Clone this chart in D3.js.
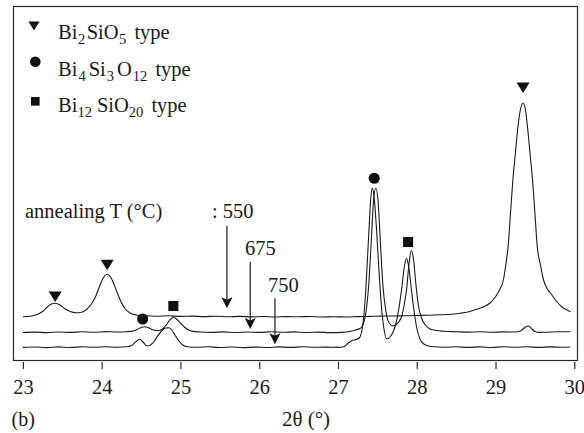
<!DOCTYPE html>
<html>
<head>
<meta charset="utf-8">
<script src="https://cdn.jsdelivr.net/npm/d3@7"></script>
<style>
  html, body { margin: 0; padding: 0; background: #fff; }
  svg { display: block; }
</style>
</head>
<body>
<svg id="chart" width="584" height="433"></svg>
<script>
// XRD patterns: [2θ (deg), intensity (a.u., offset per annealing temperature)]
const pattern550 = [
  [23.00,43.3],[23.10,43.8],[23.18,45.5],[23.25,48.5],[23.31,53],[23.36,56],[23.41,56.7],[23.47,55],
  [23.53,51.5],[23.60,48.5],[23.67,47.3],[23.73,47.5],[23.80,50],[23.86,55],[23.92,63],[23.97,73],
  [24.02,82],[24.07,85.7],[24.12,82],[24.17,73],[24.23,61],[24.29,52],[24.36,47],[24.44,45],
  [24.55,44.2],[24.70,43.8],[24.85,44.2],[25.00,43.6],[25.15,43.9],[25.30,43.4],[25.45,43.8],
  [25.60,43.2],[25.75,43.6],[25.90,43.1],[26.05,43.5],[26.20,43.0],[26.35,43.4],[26.50,43.2],
  [26.65,43.5],[26.80,43.0],[26.95,43.3],[27.10,43.0],[27.25,43.4],[27.40,43.6],[27.55,43.9],
  [27.70,44.0],[27.85,44.3],[28.00,44.5],[28.15,44.8],[28.30,45.2],[28.45,45.8],[28.55,46.7],
  [28.65,48],[28.75,50.5],[28.85,53.3],[28.93,57],[29.00,63.3],[29.05,70],[29.10,80],[29.13,95],
  [29.16,113.3],[29.19,146.7],[29.22,180],[29.25,205],[29.28,230],[29.31,248],[29.35,256.7],
  [29.38,250],[29.41,230],[29.44,205],[29.47,180],[29.50,146.7],[29.53,113.3],[29.57,95],
  [29.61,80],[29.65,72],[29.70,66.7],[29.77,59],[29.84,53.3],[29.90,50.5],[29.95,48.3]
];
const pattern675 = [
  [23.00,27.5],[23.15,27.9],[23.30,27.4],[23.45,28.0],[23.60,27.6],[23.75,28.2],[23.90,27.7],
  [24.05,28.4],[24.20,28.0],[24.32,28.3],[24.40,29],[24.45,30.5],[24.50,32.5],[24.55,33.3],
  [24.60,32],[24.66,30],[24.72,29.3],[24.77,31],[24.82,35],[24.87,40.5],[24.91,42.7],[24.95,41],
  [25.00,37],[25.05,33],[25.10,30],[25.16,28.6],[25.25,28],[25.40,27.6],[25.55,28.1],[25.70,27.5],
  [25.85,28.0],[26.00,27.6],[26.15,28.2],[26.30,27.7],[26.45,28.1],[26.60,27.5],[26.75,27.9],
  [26.90,27.4],[27.05,27.6],[27.15,28.5],[27.22,30],[27.28,31.5],[27.31,34],[27.35,45],[27.39,75],
  [27.42,115],[27.45,158],[27.48,172],[27.51,158],[27.54,115],[27.57,75],[27.61,48],[27.65,37],
  [27.70,34],[27.74,35.5],[27.78,39],[27.81,44],[27.84,55],[27.87,70],[27.90,95],[27.93,109.3],
  [27.96,100],[27.99,75],[28.02,55],[28.06,42],[28.11,35],[28.17,31],[28.25,29.5],[28.35,28.8],
  [28.50,28.3],[28.65,27.9],[28.80,28.2],[28.95,27.7],[29.10,28.1],[29.25,28.0],[29.31,28.8],
  [29.35,31],[29.39,33.5],[29.42,34],[29.46,31],[29.50,28.5],[29.56,27.6],[29.65,27.8],
  [29.80,28.2],[29.95,28.3]
];
const pattern750 = [
  [23.00,12.6],[23.15,13.0],[23.30,12.4],[23.45,13.1],[23.60,12.5],[23.75,13.2],[23.90,12.7],
  [24.05,13.3],[24.20,12.8],[24.32,13.2],[24.38,14.5],[24.43,18],[24.48,20.7],[24.53,17.5],
  [24.57,14.3],[24.61,14.5],[24.66,18],[24.71,24],[24.76,29],[24.81,32],[24.85,32.3],[24.89,30],
  [24.93,25],[24.98,19],[25.03,15],[25.09,13.2],[25.20,12.7],[25.35,13.2],[25.50,12.5],[25.65,13.0],
  [25.80,12.4],[25.95,12.9],[26.10,12.5],[26.25,13.1],[26.40,12.6],[26.55,13.2],[26.70,12.7],
  [26.85,12.9],[27.00,12.6],[27.08,13.5],[27.13,17],[27.18,19.5],[27.23,20.5],[27.27,22],[27.30,28],
  [27.33,45],[27.36,80],[27.39,125],[27.415,160],[27.435,172],[27.46,162],[27.49,130],[27.52,90],
  [27.55,55],[27.58,33],[27.62,21],[27.66,23],[27.70,28],[27.74,38],[27.78,55],[27.81,72],
  [27.84,92],[27.87,102],[27.90,92],[27.93,72],[27.96,52],[28.00,32],[28.04,21],[28.09,16],
  [28.15,14],[28.22,13.2],[28.35,12.8],[28.50,13.2],[28.65,12.6],[28.80,13.1],[28.95,12.5],
  [29.10,13.3],[29.25,12.7],[29.40,13.2],[29.55,12.6],[29.70,13.1],[29.85,12.7],[29.95,13.0]
];

// Phase markers above the indexed reflections (0: Bi2SiO5, 1: Bi4Si3O12, 2: Bi12SiO20)
const markerTheta = [23.41, 24.07, 29.35, 24.52, 27.46, 24.91, 27.89];
const markerLevel = [63.3, 95, 272.3, 41, 181.7, 54, 118];
const markerPhase = [0, 0, 0, 1, 1, 2, 2];

// Annealing temperature labels and arrows
const tempLabels = [": 550", "675", "750"];
const arrowTheta = [25.59, 25.886, 26.20];
const arrowFrom = [134, 98, 61.7];
const arrowTo = [51.7, 31, 15.7];

// Legend entries: [text, isSubscript]
const legendLabels = [
  [["Bi",0],["2",1],["SiO",0],["5",1],[" type",0]],
  [["Bi",0],["4",1],["Si",0],["3",1],["O",0],["12",1],[" type",0]],
  [["Bi",0],["12",1],["SiO",0],["20",1],[" type",0]]
];
const xTicks = [23, 24, 25, 26, 27, 28, 29, 30];

const SERIF = '"Liberation Serif", "Times New Roman", Times, serif';
const INK = "#1a1a1a";

const svg = d3.select("#chart").attr("font-family", SERIF);
const frame = { left: 13.5, top: 6.5, right: 577.5, bottom: 360.5 };

const x = d3.scaleLinear().domain([23, 30]).range([22.9, 574.3]);
const y = d3.scaleLinear().domain([0, 354]).range([360, 6]);

function label(xPos, yPos, str, anchor) {
  return svg.append("text")
    .attr("x", xPos).attr("y", yPos)
    .attr("text-anchor", anchor || "start")
    .attr("font-family", SERIF).attr("font-size", 20)
    .attr("fill", INK).text(str);
}

// Plot frame
svg.append("rect")
  .attr("x", frame.left).attr("y", frame.top)
  .attr("width", frame.right - frame.left).attr("height", frame.bottom - frame.top)
  .attr("fill", "none").attr("stroke", "#2a2a2a").attr("stroke-width", 1.2);

// X axis
const axisG = svg.append("g").attr("transform", "translate(0,362)")
  .call(d3.axisBottom(x).tickValues(xTicks).tickSize(7).tickFormat(d3.format("d")))
  .attr("font-family", SERIF).attr("font-size", 20);
axisG.select(".domain").remove();
axisG.selectAll(".tick line").attr("stroke", "#2a2a2a").attr("stroke-width", 1.2);
axisG.selectAll(".tick text")
  .attr("y", 32).attr("dy", null)
  .attr("font-family", SERIF).attr("font-size", 20.5)
  .attr("fill", INK);

label(306, 426, "2θ (°)", "middle").attr("font-size", 21);
label(11.5, 426, "(b)");

// Diffraction patterns
const line = d3.line().x(d => x(d[0])).y(d => y(d[1])).curve(d3.curveMonotoneX);
[pattern550, pattern675, pattern750].forEach(p => {
  svg.append("path").datum(p).attr("d", line)
    .attr("fill", "none").attr("stroke", INK).attr("stroke-width", 1.1);
});

// Marker shapes
function shapePath(phase, cx, cy, s) {
  if (phase === 0) {
    const w = s * 0.62, h = s * 0.5;
    return `M${cx - w},${cy - h}L${cx + w},${cy - h}L${cx},${cy + h}Z`;
  }
  if (phase === 2) {
    const h = s * 0.48;
    return `M${cx - h},${cy - h}H${cx + h}V${cy + h}H${cx - h}Z`;
  }
  const r = s * 0.53;
  return `M${cx - r},${cy}A${r},${r} 0 1,0 ${cx + r},${cy}A${r},${r} 0 1,0 ${cx - r},${cy}Z`;
}

svg.append("g").selectAll("path")
  .data(markerTheta.map((t, i) => ({ t, v: markerLevel[i], p: markerPhase[i] })))
  .join("path")
  .attr("d", d => shapePath(d.p, x(d.t), y(d.v), 10.5))
  .attr("fill", "#111");

// Legend
const legendY = [39, 76, 112];
const legendMarkerY = [26, 61.7, 101.3];
const legendMarkerSize = [9.5, 10, 9];
const legendGap = [[0.5, 1.5], [1, 3], [0, 5]];
legendLabels.forEach((segs, i) => {
  svg.append("path")
    .attr("d", i === 0
      ? shapePath(0, 34, legendMarkerY[i], 9)
      : shapePath(i, 35.3, legendMarkerY[i], legendMarkerSize[i]))
    .attr("fill", "#111");
  const t = label(58, legendY[i], "").attr("font-size", 20.5);
  let prevSub = 0;
  segs.forEach(([txt, sub], k) => {
    const ts = t.append("tspan").text(txt).attr("font-size", sub ? 14.5 : 20.5);
    if (sub && !prevSub) ts.attr("dy", 5).attr("dx", legendGap[i][0]);
    if (!sub && prevSub) ts.attr("dy", -5).attr("dx", k === segs.length - 1 ? 3 : legendGap[i][1]);
    prevSub = sub;
  });
});

// Annealing temperature annotation
label(25, 218, "annealing T (°C)").attr("font-size", 20.5);
const labelX = [212, 245, 268];
const labelY = [218, 255, 292];
tempLabels.forEach((lab, i) => {
  label(labelX[i], labelY[i], lab).attr("font-size", 20.5);
  const ax = x(arrowTheta[i]);
  const y0 = y(arrowFrom[i]);
  const tip = y(arrowTo[i]);
  svg.append("line").attr("x1", ax).attr("x2", ax).attr("y1", y0).attr("y2", tip - 6)
    .attr("stroke", INK).attr("stroke-width", 1.2);
  svg.append("path")
    .attr("d", `M${ax - 5.5},${tip - 11}L${ax},${tip - 8.5}L${ax + 5.5},${tip - 11}L${ax},${tip}Z`)
    .attr("fill", "#111");
});
</script>
</body>
</html>
